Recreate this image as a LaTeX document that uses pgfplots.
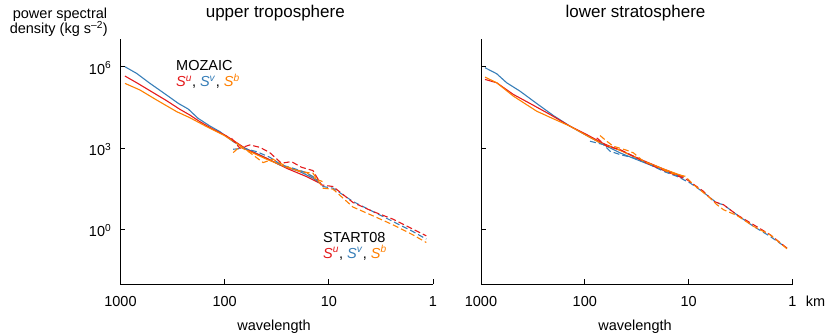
\documentclass[border=0pt]{standalone}
\usepackage{pgfplots}
\pgfplotsset{compat=1.18}
\usepackage{fontspec}
\setmainfont{Liberation Sans}
\definecolor{cr}{RGB}{228,26,28}
\definecolor{cb}{RGB}{55,126,184}
\definecolor{co}{RGB}{255,127,0}
\newcommand{\fs}{\fontsize{14.5}{16}\selectfont}
\tikzset{dsh/.style={dash pattern=on 6pt off 3pt}, ln/.style={line width=1.1pt}}
\begin{document}
\begin{tikzpicture}
\useasboundingbox (0pt,0pt) rectangle (829pt,333pt);
\begin{axis}[at={(120.5pt,49pt)}, anchor=south west, width=312.5pt,
  scale only axis, height=245pt,
  xmode=log, ymode=log, x dir=reverse,
  xmin=1, xmax=1000, ymin=1e-2, ymax=1.05e7,
  axis x line*=bottom, axis y line*=left,
  axis line style={line width=1pt},
  tick style={line width=0.8pt, black},
  major tick length=5pt, tick align=inside,
  xtick={1,10,100,1000}, xticklabels={1,10,100,1000},
  ytick={1,1000,1000000},
  xminorticks=false, yminorticks=false,
  ticklabel style={font=\fs},
  xticklabel style={anchor=base, yshift=-22pt},
  yticklabel style={anchor=base east, xshift=-5.7pt, yshift=-7.3pt},
  yticklabels={10\textsuperscript{0},10\textsuperscript{3},10\textsuperscript{6}}]
% MOZAIC
\addplot[cb, ln, mark=none] table {
906 1.0e6
700 5.69e5
521 2.44e5
361 9.08e4
279 4.49e4
224 2.78e4
180 1.26e4
139 6.6e3
111 4.07e3
82.8 1.75e3
66.4 1.08e3
46.0 565
29.6 243
19.0 138
14.2 78.5
11.8 48.5
};
\addplot[cr, ln, mark=none] table {
906 4.54e5
700 2.58e5
521 1.31e5
361 5.62e4
269 2.70e4
216 1.67e4
173 9.5e3
129 4.97e3
96 2.83e3
76.9 1.61e3
61.7 915
39.6 427
25.5 183
16.4 90.4
12.2 51.4
};
\addplot[co, ln, mark=none] table {
906 2.44e5
650 1.39e5
450 5.96e4
289 2.22e4
216 1.33e4
149 6.22e3
103 3.08e3
76.9 1.52e3
61.7 863
39.6 392
25.5 199
16.4 127
13.2 72.1
11.5 59.2
};
% START08
\addplot[cb, ln, dsh, mark=none] table {
82.8 915
66.4 995
49.4 750
36.9 464
28.5 243
22.0 183
17.7 138
14.2 90.4
11.3 38.7
9.10 33.6
5.86 10.9
3.77 4.67
2.42 2.0
1.56 0.855
1.16 0.449
};
\addplot[cr, ln, dsh, mark=none] table {
85.9 2.32e3
71.4 995
57.3 1.32e3
46.0 1.08e3
36.9 689
28.5 279
22.9 322
18.3 199
14.2 150
11.8 44.7
9.10 38.7
5.86 10.0
3.77 4.67
2.42 2.44
1.56 1.05
1.16 0.596
};
\addplot[co, ln, dsh, mark=none] table {
82.8 689
71.4 1.15e3
57.3 689
42.8 296
34.3 392
25.5 211
19.0 138
14.2 120
11.3 33.6
9.1 30.9
5.86 6.81
3.77 3.24
2.42 1.51
1.56 0.647
1.16 0.338
};
\end{axis}
\begin{axis}[at={(481pt,49pt)}, anchor=south west, width=311.5pt,
  scale only axis, height=245pt,
  xmode=log, ymode=log, x dir=reverse,
  xmin=1, xmax=1000, ymin=1e-2, ymax=1.05e7,
  axis x line*=bottom, axis y line*=left,
  axis line style={line width=1pt},
  tick style={line width=0.8pt, black},
  major tick length=5pt, tick align=inside,
  xtick={1,10,100,1000}, xticklabels={1,10,100,1000},
  ytick={1,1000,1000000},
  xminorticks=false, yminorticks=false,
  ticklabel style={font=\fs},
  xticklabel style={anchor=base, yshift=-22pt},
  yticklabels={}]
\addplot[cb, ln, mark=none] table {
915 9.2e5
706 5.52e5
566 2.57e5
421 1.26e5
291 4.44e4
201 1.60e4
139 6.47e3
95.9 2.92e3
66.2 1.36e3
45.7 671
27.3 304
17.5 154
11.2 80.2
};
\addplot[cr, ln, mark=none] table {
915 3.41e5
706 2.57e5
488 9.53e4
337 4.44e4
216 1.74e4
139 6.47e3
95.9 3.18e3
66.2 1.48e3
45.7 841
27.3 350
17.5 172
11.2 87.3
};
\addplot[co, ln, mark=none] table {
915 4.16e5
706 2.57e5
488 8.28e4
291 2.31e4
201 1.21e4
139 6.47e3
95.9 2.92e3
66.2 1.36e3
45.7 841
27.3 330
17.5 172
11.2 92.5
};
\addplot[cb, ln, dsh, mark=none] table {
89.1 1.81e3
66.2 1.36e3
57.2 773
45.7 582
34.0 439
23.5 249
17.5 141
13.0 92.5
9.68 52.5
7.19 23.7
5.35 9.59
4.62 8.32
3.44 3.56
2.37 1.32
1.64 0.564
1.13 0.209
};
\addplot[cr, ln, dsh, mark=none] table {
76.8 2.40e3
61.5 1.18e3
45.7 891
31.6 439
23.5 249
15.1 123
10.4 69.7
7.19 25.8
5.77 11.0
4.62 8.32
3.44 3.56
2.37 1.52
1.64 0.650
1.13 0.209
};
\addplot[co, ln, dsh, mark=none] table {
71.3 2.92e3
61.5 1.81e3
53.1 1.18e3
39.5 841
34.0 671
27.3 330
20.3 216
15.1 123
10.8 92.5
8.99 45.5
6.21 14.7
5.35 8.32
4.62 5.44
3.44 3.36
2.37 1.32
1.64 0.650
1.13 0.198
};
\end{axis}
% titles and labels
\node[anchor=base, font=\fontsize{17}{19}\selectfont] at (275.3pt,315.7pt) {upper troposphere};
\node[anchor=base, font=\fontsize{17}{19}\selectfont] at (635.5pt,315.7pt) {lower stratosphere};
\node[anchor=base, font=\fs, inner sep=0pt] at (60pt,315pt) {power spectral};
\node[anchor=base, font=\fs, inner sep=0pt] at (58.8pt,299.5pt) {density (kg s\textsuperscript{–2})};
\node[anchor=base, font=\fs, inner sep=0pt] at (274pt,3pt) {wavelength};
\node[anchor=base, font=\fs, inner sep=0pt] at (635pt,3pt) {wavelength};
\node[anchor=base west, font=\fs, inner sep=0pt] at (805.7pt,27pt) {km};
% legend texts
\node[anchor=base west, font=\fs, inner sep=0pt] at (176pt,262.3pt) {MOZAIC};
\node[anchor=base west, font=\fs, inner sep=0pt] at (176pt,246.3pt) {{\color{cr}\textit{S}\textsuperscript{\textit{u}}}, {\color{cb}\textit{S}\textsuperscript{\textit{v}}}, {\color{co}\textit{S}\textsuperscript{\textit{b}}}};
\node[anchor=base west, font=\fs, inner sep=0pt] at (323pt,91pt) {START08};
\node[anchor=base west, font=\fs, inner sep=0pt] at (323pt,75pt) {{\color{cr}\textit{S}\textsuperscript{\textit{u}}}, {\color{cb}\textit{S}\textsuperscript{\textit{v}}}, {\color{co}\textit{S}\textsuperscript{\textit{b}}}};
\end{tikzpicture}
\end{document}
